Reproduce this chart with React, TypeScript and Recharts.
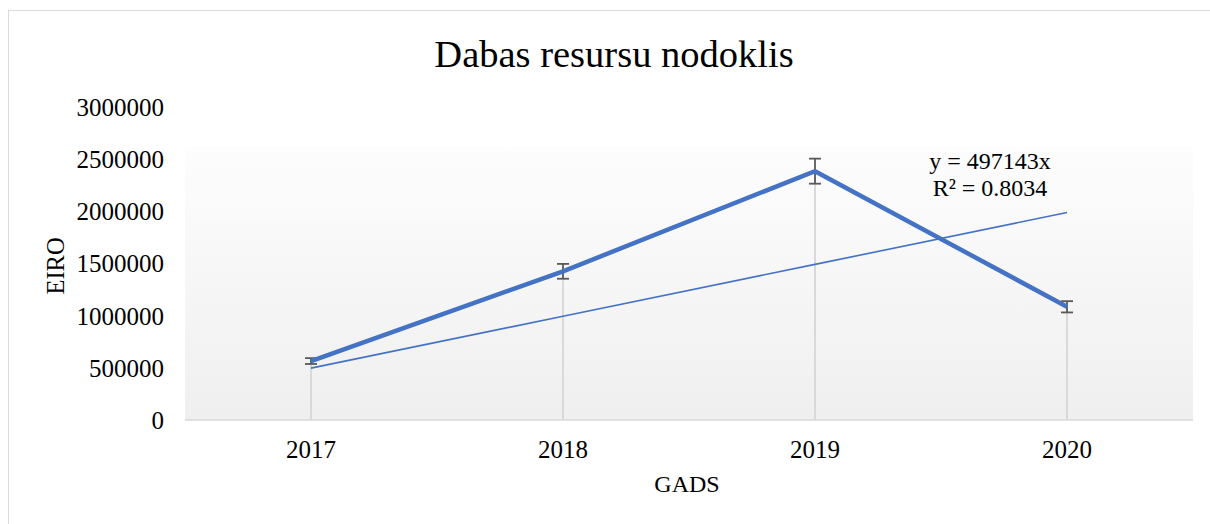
import React from 'react';
import { ComposedChart, Line, Bar, XAxis, YAxis, CartesianGrid, ErrorBar } from 'recharts';

const years = ['2017', '2018', '2019', '2020'];
const taxValues = [565000, 1425000, 2385000, 1085000];
const errorValues = [28000, 71000, 120000, 54000];
const trendValues = [497143, 994286, 1491429, 1988572];
const yTicks = [0, 500000, 1000000, 1500000, 2000000, 2500000, 3000000];

const data = years.map((y, i) => ({
  year: y,
  value: taxValues[i],
  err: errorValues[i],
  trend: trendValues[i],
  drop: taxValues[i],
}));

const FONT = '"Liberation Serif", "Times New Roman", serif';
const BLUE = '#4472C4';

const textStyle: React.CSSProperties = {
  position: 'absolute',
  fontFamily: FONT,
  color: '#000',
  lineHeight: 1,
  whiteSpace: 'nowrap',
  transform: 'translate(-50%, -50%)',
};

export default function App() {
  return (
    <div style={{ position: 'absolute', left: 0, top: 0, width: 1210, height: 524, overflow: 'hidden', background: '#fff' }}>
      <svg width={0} height={0} style={{ position: 'absolute' }}>
        <defs>
          <linearGradient id="plotBg" x1="0" y1="0" x2="0" y2="1">
            <stop offset="0" stopColor="#ffffff" />
            <stop offset="0.125" stopColor="#ffffff" />
            <stop offset="0.13" stopColor="#fdfdfd" />
            <stop offset="1" stopColor="#efefef" />
          </linearGradient>
        </defs>
      </svg>
      <div style={{ position: 'absolute', left: 8, top: 10, width: 1300, height: 600, border: '1.5px solid #d9d9d9', boxSizing: 'border-box' }} />
      <div style={{ position: 'absolute', left: 0, top: 0 }}>
        <ComposedChart width={1210} height={524} data={data} margin={{ top: 107, right: 17, bottom: 0, left: 0 }}>
          <CartesianGrid horizontal={false} vertical={false} fill="url(#plotBg)" fillOpacity={1} stroke="none" />
          <XAxis
            dataKey="year"
            height={104}
            tickLine={false}
            tickSize={0}
            tickMargin={20}
            axisLine={{ stroke: '#d9d9d9', strokeWidth: 1.5 }}
            tick={{ fill: '#000', fontSize: 25, fontFamily: FONT }}
          />
          <YAxis
            width={185}
            domain={[0, 3000000]}
            ticks={yTicks}
            interval={0}
            axisLine={false}
            tickLine={false}
            tickSize={0}
            tickMargin={21}
            tick={{ fill: '#000', fontSize: 25, fontFamily: FONT }}
          />
          <Bar dataKey="drop" barSize={2} fill="#d9d9d9" isAnimationActive={false} />
          <Line dataKey="trend" stroke={BLUE} strokeWidth={1.6} dot={false} isAnimationActive={false} />
          <Line dataKey="value" stroke={BLUE} strokeWidth={4.5} dot={false} isAnimationActive={false}>
            <ErrorBar dataKey="err" width={6} stroke="#595959" strokeWidth={1.8} direction="y" />
          </Line>
        </ComposedChart>
      </div>
      <div style={{ ...textStyle, left: 614, top: 54, fontSize: 38.5 }}>Dabas resursu nodoklis</div>
      <div style={{ ...textStyle, left: 687, top: 484, fontSize: 24 }}>GADS</div>
      <div style={{ ...textStyle, left: 56, top: 266, fontSize: 24.5, transform: 'translate(-50%, -50%) rotate(-90deg)' }}>EIRO</div>
      <div style={{ ...textStyle, left: 990, top: 161, fontSize: 24 }}>y = 497143x</div>
      <div style={{ ...textStyle, left: 990, top: 188, fontSize: 24 }}>R² = 0.8034</div>
    </div>
  );
}
